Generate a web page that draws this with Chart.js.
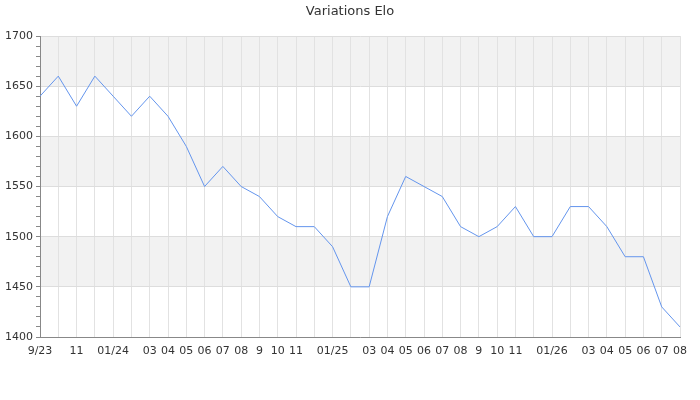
<!DOCTYPE html>
<html>
<head>
  <title>Variations Elo</title>
  <script src="https://cdn.jsdelivr.net/npm/chart.js"></script>
  <style>
    body { margin: 0; background: #fff; }
    #wrap { width: 700px; height: 400px; }
  </style>
</head>
<body>

<div id="wrap"><canvas id="eloChart" width="700" height="400"></canvas></div>

<script>
  const titleText = 'Variations Elo';
  // one point per month, 9/23 .. 08/26
  const months = [
    '9/23', '10', '11', '12', '01/24', '02', '03', '04', '05', '06', '07', '08',
    '9', '10', '11', '12', '01/25', '02', '03', '04', '05', '06', '07', '08',
    '9', '10', '11', '12', '01/26', '02', '03', '04', '05', '06', '07', '08'
  ];
  // labels actually printed under the axis (the others are skipped)
  const tickLabels = [
    '9/23', '', '11', '', '01/24', '', '03', '04', '05', '06', '07', '08',
    '9', '10', '11', '', '01/25', '', '03', '04', '05', '06', '07', '08',
    '9', '10', '11', '', '01/26', '', '03', '04', '05', '06', '07', '08'
  ];
  const elo = [
    1640, 1660, 1630, 1660, 1640, 1620, 1640, 1620, 1590, 1550, 1570, 1550,
    1540, 1520, 1510, 1510, 1490, 1450, 1450, 1520, 1560, 1550, 1540, 1510,
    1500, 1510, 1530, 1500, 1500, 1530, 1530, 1510, 1480, 1480, 1430, 1410
  ];
  const yMin = 1400, yMax = 1700, yMajor = 50, yMinor = 10;
  // shaded horizontal bands [from, to]
  const bands = [[1450, 1500], [1550, 1600], [1650, 1700]];

  const font = "'DejaVu Sans', sans-serif";

  const bandPlugin = {
    id: 'bands',
    beforeDraw(chart) {
      const { ctx, chartArea, scales } = chart;
      ctx.save();
      ctx.fillStyle = '#f2f2f2';
      bands.forEach(b => {
        const top = scales.y.getPixelForValue(b[1]);
        const bot = scales.y.getPixelForValue(b[0]);
        ctx.fillRect(chartArea.left, top, chartArea.right - chartArea.left, bot - top);
      });
      ctx.restore();
    }
  };

  // title centred on the whole canvas, not on the plot
  const titlePlugin = {
    id: 'pageTitle',
    afterDraw(chart) {
      const ctx = chart.ctx;
      ctx.save();
      ctx.font = '13px ' + font;
      ctx.fillStyle = '#333';
      ctx.textAlign = 'center';
      ctx.textBaseline = 'middle';
      ctx.fillText(titleText, chart.width / 2, 12);
      ctx.restore();
    }
  };

  new Chart(document.getElementById('eloChart').getContext('2d'), {
    type: 'line',
    data: {
      labels: months,
      datasets: [{
        label: 'Elo',
        data: elo,
        borderColor: '#6495ed',
        borderWidth: 1,
        pointRadius: 0,
        tension: 0,
        fill: false
      }]
    },
    options: {
      responsive: false,
      animation: false,
      devicePixelRatio: 1,
      layout: { padding: { left: 0, right: 20, top: 36, bottom: 0 } },
      plugins: {
        legend: { display: false },
        tooltip: { enabled: false },
        title: { display: false }
      },
      scales: {
        x: {
          offset: false,
          grid: { color: '#e2e2e2', drawTicks: false },
          border: { color: '#888' },
          ticks: {
            autoSkip: false,
            maxRotation: 0,
            padding: 8,
            color: '#333',
            font: { family: font, size: 11 },
            callback: (v, i) => tickLabels[i]
          },
          afterFit: s => { s.height = 63; }
        },
        y: {
          min: yMin,
          max: yMax,
          grid: {
            color: c => (c.tick.value % yMajor === 0 ? '#dddddd' : 'rgba(0,0,0,0)'),
            tickColor: '#888',
            tickLength: 4
          },
          border: { color: '#888' },
          ticks: {
            stepSize: yMinor,
            autoSkip: false,
            padding: 3,
            color: '#333',
            font: { family: font, size: 11 },
            callback: v => (v % yMajor === 0 ? v : '')
          },
          afterFit: s => { s.width = 40; }
        }
      }
    },
    plugins: [bandPlugin, titlePlugin]
  });
</script>

</body>
</html>
